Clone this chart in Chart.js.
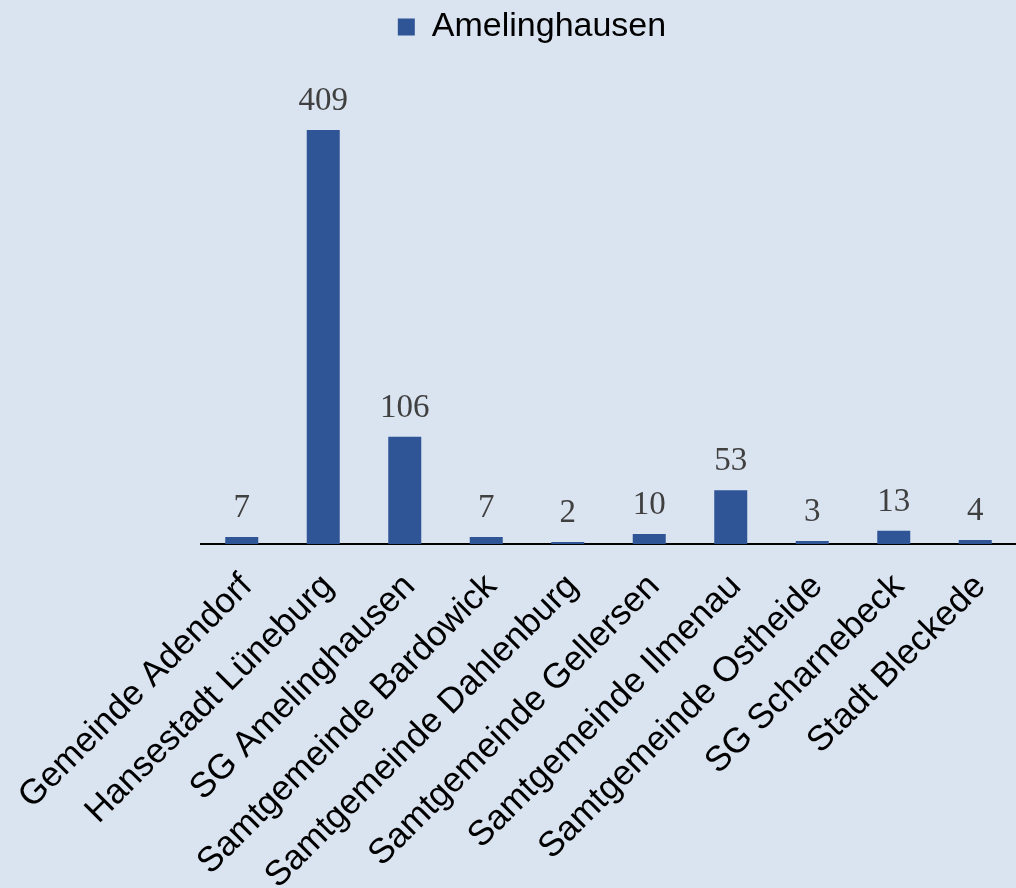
<!DOCTYPE html>
<html>
<head>
<meta charset="utf-8">
<script src="https://cdn.jsdelivr.net/npm/chart.js@4"></script>
<style>
    html, body { margin: 0; padding: 0; background: #dae3f0; }
    #wrap { width: 1016px; height: 888px; }
</style>
</head>
<body>
<div id="wrap"><canvas id="chart" width="1016" height="888"></canvas></div>
<script>
const categories = [
    'Gemeinde Adendorf', 'Hansestadt Lüneburg', 'SG Amelinghausen',
    'Samtgemeinde Bardowick', 'Samtgemeinde Dahlenburg', 'Samtgemeinde Gellersen',
    'Samtgemeinde Ilmenau', 'Samtgemeinde Ostheide', 'SG Scharnebeck', 'Stadt Bleckede'
];
const seriesName = 'Amelinghausen';
const values = [7, 409, 106, 7, 2, 10, 53, 3, 13, 4];

// draw the value above every bar
const valueLabels = {
    id: 'valueLabels',
    afterDatasetsDraw(chart) {
        const ctx = chart.ctx;
        const meta = chart.getDatasetMeta(0);
        ctx.save();
        ctx.font = '33px "Liberation Serif", "Times New Roman", serif';
        ctx.fillStyle = '#404040';
        ctx.textAlign = 'center';
        ctx.textBaseline = 'alphabetic';
        meta.data.forEach((bar, i) => {
            ctx.fillText(String(values[i]), bar.x, bar.y - 20);
        });
        ctx.restore();
    }
};

new Chart(document.getElementById('chart'), {
    type: 'bar',
    data: {
        labels: categories,
        datasets: [{
            label: seriesName,
            data: values,
            backgroundColor: '#2f5597',
            borderWidth: 0,
            categoryPercentage: 1,
            barPercentage: 0.405
        }]
    },
    options: {
        responsive: false,
        animation: false,
        layout: { padding: { left: 48, right: 0, top: 0, bottom: 0 } },
        plugins: {
            tooltip: { enabled: false },
            legend: {
                position: 'top',
                labels: {
                    boxWidth: 17,
                    boxHeight: 17,
                    padding: 10,
                    color: '#000',
                    font: { family: '"Liberation Sans", Arial, sans-serif', size: 34 }
                }
            }
        },
        scales: {
            x: {
                grid: { display: false },
                border: { display: true, color: '#000', width: 2 },
                ticks: {
                    autoSkip: false,
                    minRotation: 45,
                    maxRotation: 45,
                    padding: 14,
                    labelOffset: 5,
                    color: '#000',
                    font: { family: '"Liberation Sans", Arial, sans-serif', size: 35 }
                },
                afterFit(scale) {
                    scale.height = 344;
                    scale.paddingLeft = 0;
                    scale.paddingRight = 0;
                }
            },
            y: {
                min: 0,
                max: 484,
                grid: { display: false },
                border: { display: false },
                ticks: { display: false },
                afterFit(scale) {
                    scale.width = 153;
                }
            }
        }
    },
    plugins: [valueLabels]
});
</script>
</body>
</html>
